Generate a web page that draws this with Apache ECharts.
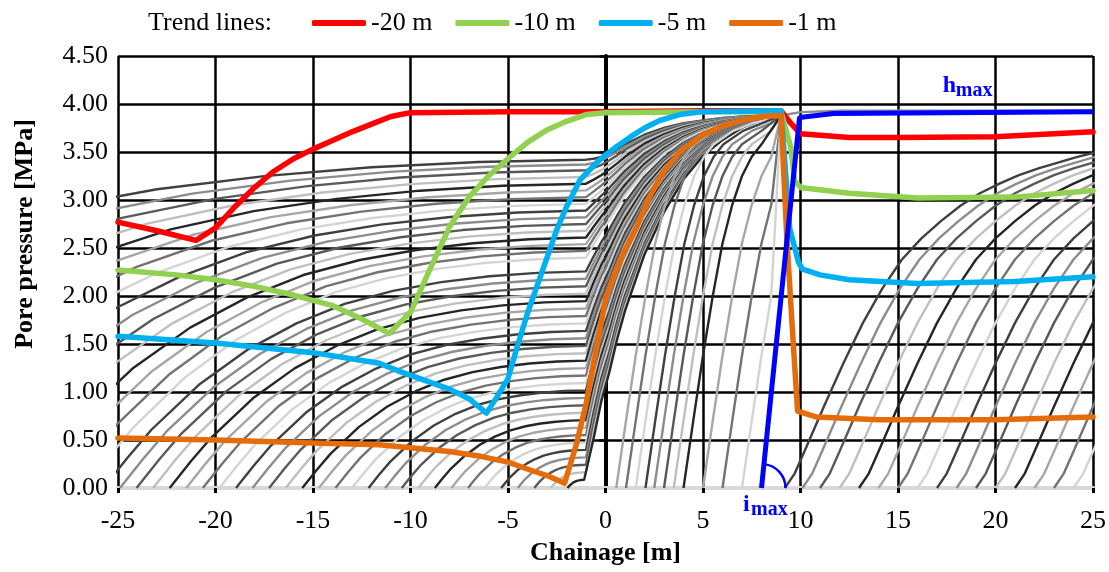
<!DOCTYPE html>
<html>
<head>
<meta charset="utf-8">
<script src="https://cdn.jsdelivr.net/npm/echarts@6/dist/echarts.min.js"></script>
<style>
  html, body { margin: 0; padding: 0; background: #fff; }
  #chart { width: 1109px; height: 572px; }
</style>
</head>
<body>
<div id="chart"></div>
<script>
// ---------- Axis ranges ----------
const X_RANGE = [-25, 25];
const Y_RANGE = [0, 4.5];

// ---------- Trend lines (chainage m, pore pressure MPa) ----------
const trend20X = [-25, -23, -21, -20, -19, -18, -17, -16, -15, -14, -13, -12, -11, -10, -5, 0, 5, 9, 9.5, 10, 12.5, 15, 20, 25];
const trend20P = [2.77, 2.68, 2.58, 2.71, 2.93, 3.13, 3.3, 3.43, 3.53, 3.62, 3.71, 3.79, 3.87, 3.91, 3.92, 3.92, 3.93, 3.93, 3.8, 3.69, 3.65, 3.65, 3.66, 3.71];

const trend10X = [-25, -22, -20, -18, -16, -14, -12.5, -11.1, -10, -9, -8, -7, -6, -5, -4, -3, -2, -1, 0, 5, 9, 9.5, 9.7, 10, 12.5, 16, 21, 25];
const trend10P = [2.27, 2.22, 2.17, 2.1, 2.01, 1.9, 1.76, 1.61, 1.83, 2.28, 2.72, 3.03, 3.25, 3.43, 3.6, 3.73, 3.82, 3.89, 3.91, 3.92, 3.92, 3.55, 3.2, 3.13, 3.07, 3.02, 3.03, 3.1];

const trend5X = [-25, -20, -15, -11.6, -10.5, -8, -7, -6.1, -5.5, -5, -4.5, -4, -3.5, -3, -2.5, -2, -1.3, -0.5, 0, 0.6, 1.3, 2, 2.8, 3.8, 4.9, 9, 9.45, 9.9, 10.1, 11, 12.5, 16, 21, 25];
const trend5P = [1.58, 1.51, 1.41, 1.3, 1.21, 1.03, 0.93, 0.78, 0.97, 1.14, 1.49, 1.82, 2.11, 2.4, 2.69, 2.93, 3.21, 3.38, 3.47, 3.56, 3.66, 3.75, 3.83, 3.89, 3.92, 3.93, 2.7, 2.35, 2.28, 2.22, 2.17, 2.13, 2.15, 2.2];

const trend1X = [-25, -20, -15, -11.6, -10, -8, -6.4, -5, -3.9, -3, -2.1, -1.5, -1, -0.5, 0, 0.5, 1, 1.6, 2.3, 3, 3.8, 5, 6, 7, 8, 9, 9.3, 9.6, 9.85, 10.8, 14, 20, 25];
const trend1P = [0.52, 0.5, 0.47, 0.45, 0.42, 0.38, 0.33, 0.27, 0.19, 0.13, 0.05, 0.45, 0.87, 1.42, 1.97, 2.25, 2.48, 2.72, 3.05, 3.3, 3.5, 3.68, 3.77, 3.83, 3.87, 3.88, 2.6, 1.6, 0.8, 0.74, 0.71, 0.71, 0.74];

// Maximum head line (h_max) and its inclination (i_max)
const hmaxX = [8.0, 9.95, 11.7, 25];
const hmaxP = [0, 3.86, 3.9, 3.92];

// ---------- Pore pressure profiles (grey family) ----------
// Profiles behind the face: zero point (m) and level reached at -1 m (MPa)
const profileStarts = [-56.0, -51.5, -48.6, -46.0, -43.6, -41.4, -39.4, -37.5, -35.8, -34.2, -32.7, -31.3, -30.0, -28.8, -27.7, -26.7,
  -25.75, -24.9, -24.05, -23.2, -22.35, -21.5, -20.65, -19.8, -18.95, -18.1, -17.25, -16.4, -15.55, -14.7, -13.85, -13.0,
  -12.15, -11.3, -10.45, -9.6, -8.75, -7.9, -7.05, -6.2, -5.35, -4.5, -3.65, -2.8, -1.95];
const profileLevels = [3.42, 3.37, 3.31, 3.24, 3.17, 3.1, 3.03, 2.96, 2.89, 2.82, 2.75, 2.68, 2.61, 2.54, 2.47, 2.40,
  2.257, 2.18, 2.102, 2.025, 1.947, 1.87, 1.792, 1.715, 1.637, 1.56, 1.482, 1.404, 1.327, 1.249, 1.172, 1.094,
  1.017, 0.939, 0.862, 0.784, 0.707, 0.629, 0.552, 0.474, 0.397, 0.319, 0.242, 0.164, 0.087];
// Shape of a profile from its zero point (0) to -1 m (1), as a fraction of its level at -1 m
const shapeU = [0, 0.05, 0.1, 0.2, 0.3, 0.4, 0.5, 0.6, 0.7, 0.8, 0.9, 1];
const shapeRatio = [0, 0.14, 0.27, 0.48, 0.64, 0.76, 0.85, 0.91, 0.95, 0.977, 0.993, 1];
// Band between -1 m and the peak at 9 m: lower and upper envelopes
const bandX = [-1, -0.6, -0.2, 0.2, 0.6, 1, 2, 3, 4, 5, 6, 7, 8, 9];
const bandLow = [0, 0.45, 0.85, 1.15, 1.5, 1.8, 2.4, 2.85, 3.2, 3.45, 3.62, 3.75, 3.83, 3.88];
const bandHigh = [3.42, 3.43, 3.45, 3.49, 3.53, 3.58, 3.68, 3.75, 3.8, 3.83, 3.855, 3.87, 3.878, 3.88];
const peakPoint = [9, 3.88];

// Steep profiles starting between the face and 9 m
const riseStarts = [0.55, 1.05, 1.55, 2.05, 2.5, 3.0, 3.5, 4.0, 5.0, 6.0, 7.0];
const riseDx = [0, 0.5, 1, 1.5, 2, 2.5, 3, 3.5, 4, 5, 6, 7, 8.4];
const riseP = [0, 0.7, 1.38, 2.0, 2.55, 2.95, 3.25, 3.45, 3.58, 3.72, 3.8, 3.85, 3.88];

// Recovery profiles beyond 9 m
const recoveryStarts = [9.2, 10.1, 11.0, 12.0, 13.0, 14.0, 15.0, 16.0, 17.0, 18.0, 19.0, 20.0, 21.0, 22.0, 23.0, 24.0];
const recoveryDx = [0, 0.5, 1, 2, 3, 4, 5, 6, 7, 8, 9, 10, 11, 12, 13, 14, 15, 16];
const recoveryP = [0, 0.15, 0.38, 0.85, 1.3, 1.72, 2.08, 2.38, 2.6, 2.78, 2.94, 3.07, 3.17, 3.26, 3.33, 3.39, 3.45, 3.5];

// Crest beyond the peak
const crestX = [9, 10, 12, 25];
const crestP = [3.88, 3.915, 3.93, 3.93];

// ---------- Helpers ----------
const FONT = '"Liberation Serif", "Times New Roman", serif';
const FS = 26;
const GREYS = ['#404040', '#8c8c8c', '#595959', '#bfbfbf', '#262626', '#a6a6a6', '#737373', '#d4d4d4'];

function zip(xs, ys) { return xs.map((x, i) => [x, ys[i]]); }

function greySeries(data, k) {
  return {
    type: 'line', name: 'profile' + k, data: data,
    xAxisIndex: 0, yAxisIndex: 0,
    symbol: 'none', showSymbol: false, silent: true, animation: false,
    lineStyle: { color: GREYS[k % GREYS.length], width: 2.4 },
    z: 2
  };
}

const series = [];
let k = 0;

// Profiles behind the face, continuing into the band up to the peak
profileStarts.forEach((f, i) => {
  const lvl = profileLevels[i];
  const span = -1 - f;
  const pts = shapeU.map((u, j) => [f + u * span, lvl * shapeRatio[j]]);
  const w = lvl / bandHigh[0];
  for (let j = 1; j < bandX.length; j++) {
    pts.push([bandX[j], bandLow[j] + w * (bandHigh[j] - bandLow[j])]);
  }
  series.push(greySeries(pts, k++));
});

// Steep profiles ahead of the face
riseStarts.forEach((s) => {
  const pts = [];
  riseDx.forEach((dx, j) => { if (s + dx < peakPoint[0]) pts.push([s + dx, riseP[j]]); });
  pts.push(peakPoint.slice());
  series.push(greySeries(pts, k++));
});

// Crest line
series.push(greySeries(zip(crestX, crestP), 1));

// Recovery profiles
recoveryStarts.forEach((s) => {
  series.push(greySeries(recoveryDx.map((dx, j) => [s + dx, recoveryP[j]]), k++));
});

function trendSeries(name, xs, ys, color) {
  return {
    type: 'line', name: name, data: zip(xs, ys),
    xAxisIndex: 0, yAxisIndex: 0,
    symbol: 'none', showSymbol: false, animation: false,
    lineStyle: { color: color, width: 5.5, cap: 'round', join: 'round' },
    itemStyle: { color: color },
    z: 5
  };
}

series.push(trendSeries('-20 m', trend20X, trend20P, '#ff0000'));
series.push(trendSeries('-10 m', trend10X, trend10P, '#92d050'));
series.push(trendSeries('-5 m', trend5X, trend5P, '#00b0f0'));
series.push(trendSeries('-1 m', trend1X, trend1P, '#e46c0a'));
series.push({
  type: 'line', name: 'hmax', data: zip(hmaxX, hmaxP),
  xAxisIndex: 0, yAxisIndex: 0,
  symbol: 'none', showSymbol: false, animation: false, silent: true,
  lineStyle: { color: '#0000ff', width: 5 },
  z: 6
});

const chart = echarts.init(document.getElementById('chart'), null, { renderer: 'canvas' });

chart.setOption({
  animation: false,
  backgroundColor: '#ffffff',
  title: {
    text: 'Trend lines:', left: 148, top: 10, padding: 0,
    textStyle: { fontFamily: FONT, fontSize: FS, fontWeight: 'normal', color: '#000' }
  },
  legend: {
    data: ['-20 m', '-10 m', '-5 m', '-1 m'],
    left: 312, top: 10, padding: 0,
    itemWidth: 54, itemHeight: 6, itemGap: 23,
    icon: 'roundRect',
    textStyle: { fontFamily: FONT, fontSize: FS, color: '#000' },
    selectedMode: false
  },
  grid: { left: 118, right: 16, top: 56, bottom: 84, containLabel: false },
  xAxis: {
    type: 'value', min: X_RANGE[0], max: X_RANGE[1], interval: 5, z: 1,
    name: 'Chainage [m]', nameLocation: 'middle', nameGap: 52,
    nameTextStyle: { fontFamily: FONT, fontSize: FS, fontWeight: 'bold', color: '#000' },
    axisLine: { onZero: false, lineStyle: { color: '#d9d9d9', width: 4 } },
    axisTick: { show: true, length: 5, lineStyle: { color: '#000', width: 3 } },
    axisLabel: { fontFamily: FONT, fontSize: FS, color: '#000', margin: 20 },
    splitLine: { show: true, lineStyle: { color: '#000', width: 2.5 } }
  },
  yAxis: [
    {
      type: 'value', min: Y_RANGE[0], max: Y_RANGE[1], interval: 0.5, position: 'left',
      name: 'Pore pressure [MPa]', nameLocation: 'middle', nameGap: 80,
      nameTextStyle: { fontFamily: FONT, fontSize: FS, fontWeight: 'bold', color: '#000', padding: [0, 0, 0, 76] },
      axisLine: { show: false, onZero: false },
      axisTick: { show: false },
      axisLabel: { fontFamily: FONT, fontSize: FS, color: '#000', margin: 10, formatter: (v) => v.toFixed(2) },
      splitLine: { show: true, showMinLine: false, lineStyle: { color: '#000', width: 2.5 } }
    },
    {
      type: 'value', min: Y_RANGE[0], max: Y_RANGE[1], interval: 0.5, position: 'left',
      axisLine: { show: true, onZero: true, lineStyle: { color: '#000', width: 4 } },
      axisTick: { show: true, length: 6, lineStyle: { color: '#000', width: 2.5 } },
      axisLabel: { show: false },
      splitLine: { show: false }
    }
  ],
  series: series
});

// Annotations: h_max label, i_max label and angle arc
const finder = { xAxisIndex: 0, yAxisIndex: 0 };
const base = chart.convertToPixel(finder, [hmaxX[0], hmaxP[0]]);
const upper = chart.convertToPixel(finder, [hmaxX[1], hmaxP[1]]);
const ang = Math.atan2(upper[1] - base[1], upper[0] - base[0]);
const hAt = chart.convertToPixel(finder, [17.3, 4.19]);
const iAt = chart.convertToPixel(finder, [7.05, -0.18]);

chart.setOption({
  graphic: [
    {
      type: 'arc', silent: true, z: 10,
      shape: { cx: base[0], cy: base[1], r: 24, startAngle: ang, endAngle: 0, clockwise: true },
      style: { stroke: '#0000ff', lineWidth: 2.5, fill: null }
    },
    {
      type: 'text', silent: true, z: 10, x: hAt[0], y: hAt[1],
      style: { text: 'h', fontFamily: FONT, fontSize: 24, fontWeight: 'bold', fill: '#0000ff', align: 'left', verticalAlign: 'middle' }
    },
    {
      type: 'text', silent: true, z: 10, x: hAt[0] + 13, y: hAt[1] + 5,
      style: { text: 'max', fontFamily: FONT, fontSize: 20, fontWeight: 'bold', fill: '#0000ff', align: 'left', verticalAlign: 'middle' }
    },
    {
      type: 'text', silent: true, z: 10, x: iAt[0], y: iAt[1],
      style: { text: 'i', fontFamily: FONT, fontSize: 24, fontWeight: 'bold', fill: '#0000ff', align: 'left', verticalAlign: 'middle' }
    },
    {
      type: 'text', silent: true, z: 10, x: iAt[0] + 8, y: iAt[1] + 5,
      style: { text: 'max', fontFamily: FONT, fontSize: 20, fontWeight: 'bold', fill: '#0000ff', align: 'left', verticalAlign: 'middle' }
    }
  ]
});
</script>
</body>
</html>
